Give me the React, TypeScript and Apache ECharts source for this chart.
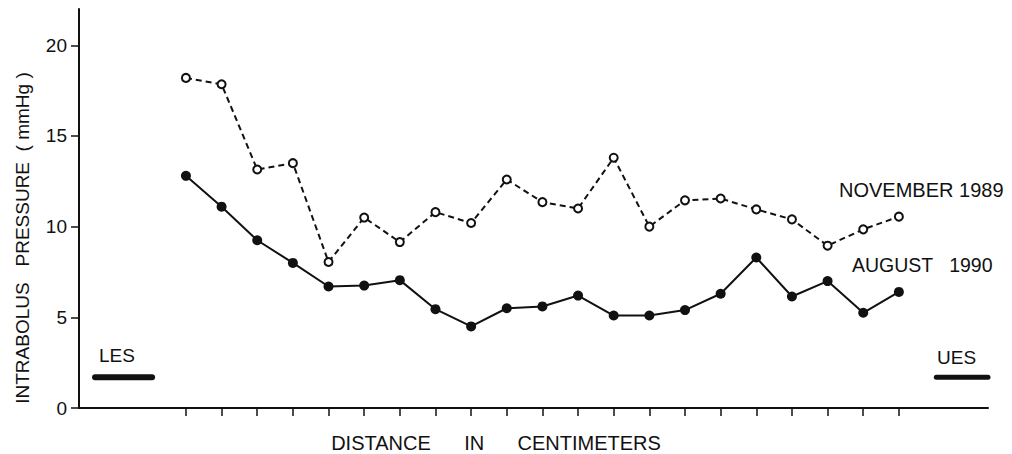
import React, { useEffect, useRef } from "react";
import * as echarts from "echarts";

// Measurement positions (tick index along the esophagus)
const positions = [0, 1, 2, 3, 4, 5, 6, 7, 8, 9, 10, 11, 12, 13, 14, 15, 16, 17, 18, 19, 20];
// Intrabolus pressure (mmHg)
const november1989 = [18.2, 17.85, 13.15, 13.5, 8.05, 10.5, 9.15, 10.8, 10.2, 12.6, 11.35, 11.0, 13.8, 10.0, 11.45, 11.55, 10.95, 10.4, 8.95, 9.85, 10.55];
const august1990 = [12.8, 11.1, 9.25, 8.0, 6.7, 6.75, 7.05, 5.45, 4.5, 5.5, 5.6, 6.2, 5.1, 5.1, 5.4, 6.3, 8.3, 6.15, 7.0, 5.25, 6.4];
// Sphincter markers (x range, y level)
const lesSegment = [[-2.55, 1.7], [-0.95, 1.7]];
const uesSegment = [[21.05, 1.7], [22.5, 1.7]];
const yTicks = [0, 5, 10, 15, 20];

const FONT = "'Liberation Sans', Arial, Helvetica, sans-serif";

export default function App() {
  const ref = useRef<HTMLDivElement>(null);
  useEffect(() => {
    if (!ref.current) return;
    const chart = echarts.init(ref.current, undefined, { renderer: "svg" });
    const ink = "#111";
    chart.setOption({
      animation: false,
      backgroundColor: "#fff",
      grid: { left: 79, right: 24, top: 9, bottom: 46 },
      xAxis: {
        type: "value",
        min: -3,
        max: 22.5,
        axisLine: { show: true, onZero: false, lineStyle: { color: ink, width: 2 } },
        axisTick: { show: true, length: 8, inside: false, customValues: positions, lineStyle: { color: ink, width: 1.5 } },
        axisLabel: { show: false },
        splitLine: { show: false },
      },
      yAxis: {
        type: "value",
        min: 0,
        max: 22,
        axisLine: { show: true, onZero: false, lineStyle: { color: ink, width: 2 } },
        axisTick: { show: true, length: 8, customValues: yTicks, lineStyle: { color: ink, width: 1.5 } },
        axisLabel: { show: true, customValues: yTicks, margin: 12, fontSize: 19, color: ink, fontFamily: FONT },
        splitLine: { show: false },
      },
      graphic: [
        { type: "text", x: 22, y: 238, rotation: Math.PI / 2, style: { text: "INTRABOLUS   PRESSURE  ( mmHg )", fontSize: 19, fontFamily: FONT, fill: ink, align: "center", verticalAlign: "middle" } },
        { type: "text", x: 496, y: 443, style: { text: "DISTANCE      IN      CENTIMETERS", fontSize: 20, fontFamily: FONT, fill: ink, align: "center", verticalAlign: "middle" } },
        { type: "text", x: 839, y: 190, style: { text: "NOVEMBER 1989", fontSize: 20, fontFamily: FONT, fill: ink, align: "left", verticalAlign: "middle" } },
        { type: "text", x: 852, y: 265, style: { text: "AUGUST   1990", fontSize: 19.5, fontFamily: FONT, fill: ink, align: "left", verticalAlign: "middle" } },
        { type: "text", x: 99, y: 355, style: { text: "LES", fontSize: 19, fontFamily: FONT, fill: ink, align: "left", verticalAlign: "middle" } },
        { type: "text", x: 937, y: 357, style: { text: "UES", fontSize: 19, fontFamily: FONT, fill: ink, align: "left", verticalAlign: "middle" } },
      ],
      series: [
        {
          name: "NOVEMBER 1989",
          type: "line",
          data: positions.map((p, i) => [p, november1989[i]]),
          symbol: "circle",
          symbolSize: 8,
          lineStyle: { color: ink, width: 2, type: [6, 4] },
          itemStyle: { color: "#fff", borderColor: ink, borderWidth: 2 },
          z: 3,
        },
        {
          name: "AUGUST 1990",
          type: "line",
          data: positions.map((p, i) => [p, august1990[i]]),
          symbol: "circle",
          symbolSize: 10,
          lineStyle: { color: ink, width: 2 },
          itemStyle: { color: ink, borderColor: ink, borderWidth: 0 },
          z: 3,
        },
        {
          name: "LES",
          type: "line",
          data: lesSegment,
          symbol: "none",
          lineStyle: { color: ink, width: 6, cap: "round" },
        },
        {
          name: "UES",
          type: "line",
          data: uesSegment,
          symbol: "none",
          lineStyle: { color: ink, width: 5, cap: "round" },
        },
      ],
    });
    return () => chart.dispose();
  }, []);
  return <div ref={ref} style={{ position: "fixed", left: 0, top: 0, width: 1012, height: 454 }} />;
}
